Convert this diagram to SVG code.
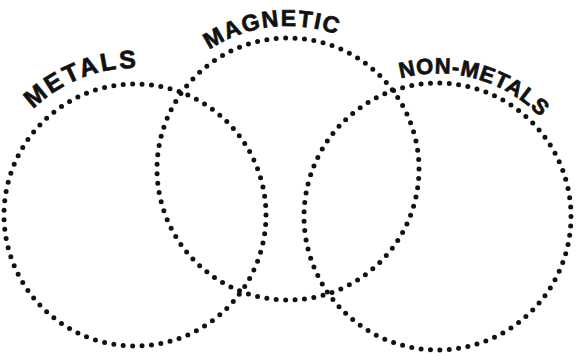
<svg xmlns="http://www.w3.org/2000/svg" width="581" height="356" viewBox="0 0 581 356">
<style>
.ring{fill:none;stroke:#111;stroke-width:5;stroke-linecap:round;stroke-dasharray:0 1}
.lbl{font-family:"Liberation Sans","DejaVu Sans",sans-serif;font-weight:bold;fill:#111;stroke:#111;stroke-width:0.7}
</style>
<defs>
<path id="arcMetals" d="M32.9,109.3 A147,147 0 0 1 137.6,68.0"/>
<path id="arcMagnetic" d="M209.1,49.8 A143,143 0 0 1 336.9,34.6"/>
<path id="arcNonMetals" d="M400.5,78.4 A143,143 0 0 1 540.4,117.2"/>
</defs>
<rect width="581" height="356" fill="#fff"/>
<g id="metals">
<circle class="ring" cx="135" cy="215" r="131" pathLength="87"/>
<text class="lbl" font-size="25"><textPath href="#arcMetals" textLength="114" lengthAdjust="spacing">METALS</textPath></text>
</g>
<g id="magnetic">
<circle class="ring" cx="288" cy="169" r="131" pathLength="87"/>
<text class="lbl" font-size="23"><textPath href="#arcMagnetic" textLength="133" lengthAdjust="spacing">MAGNETIC</textPath></text>
</g>
<g id="non-metals">
<circle class="ring" cx="437.5" cy="216.5" r="133.5" pathLength="89"/>
<text class="lbl" font-size="22"><textPath href="#arcNonMetals" textLength="152" lengthAdjust="spacing">NON-METALS</textPath></text>
</g>
<g id="connectors"/>
</svg>
